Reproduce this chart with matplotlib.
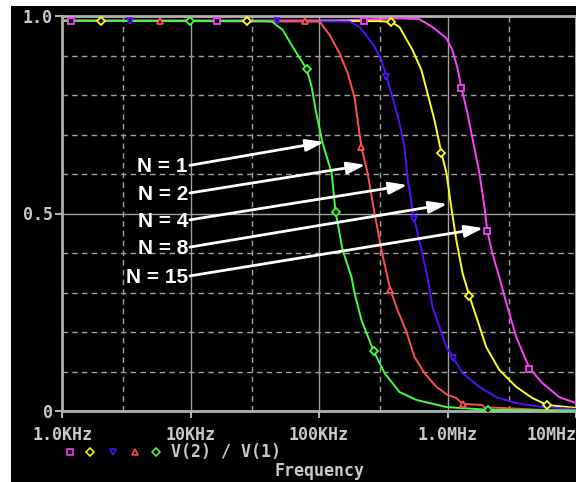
import matplotlib
matplotlib.use("Agg")
import matplotlib.pyplot as plt
from matplotlib.lines import Line2D
from matplotlib.patches import Rectangle
from matplotlib.ticker import NullFormatter

# traces: frequency (Hz) and V(2)/V(1)
f_n1 = [1e3, 34.5e3, 42.9e3, 52.1e3, 64.6e3, 80.1e3, 87.7e3, 94.2e3, 106.7e3, 125.3e3,
        134.6e3, 152.5e3, 179e3, 189e3, 214e3, 266e3, 324e3, 423e3, 573e3, 980e3, 2.08e6, 1e7]
v_n1 = [0.988, 0.987, 0.986, 0.965, 0.914, 0.866, 0.820, 0.762, 0.678, 0.603,
        0.504, 0.408, 0.339, 0.299, 0.230, 0.152, 0.096, 0.048, 0.028, 0.010, 0.003, 0.001]

f_n2 = [1e3, 101e3, 121e3, 144.5e3, 166.8e3, 189e3, 199.6e3, 214e3, 238.6e3, 270.5e3,
        306e3, 341e3, 360e3, 408e3, 480e3, 553e3, 662e3, 820e3, 998e3, 1.17e6, 1.31e6,
        1.87e6, 1.93e6, 2.53e6, 5.17e6, 1e7]
v_n2 = [0.988, 0.986, 0.952, 0.906, 0.856, 0.795, 0.737, 0.668, 0.603, 0.501,
        0.408, 0.339, 0.306, 0.256, 0.200, 0.137, 0.096, 0.061, 0.041, 0.033, 0.018,
        0.015, 0.009, 0.008, 0.003, 0.001]

f_n4 = [1e3, 173e3, 207e3, 238.6e3, 270.5e3, 306e3, 335e3, 373e3, 423e3, 463e3, 488e3,
        534e3, 553e3, 627e3, 698e3, 764e3, 820e3, 980e3, 1.11e6, 1.31e6, 1.77e6, 2.40e6,
        3.43e6, 5.46e6, 1e7]
v_n4 = [0.988, 0.986, 0.972, 0.947, 0.922, 0.889, 0.846, 0.795, 0.729, 0.668, 0.592,
        0.509, 0.486, 0.408, 0.339, 0.263, 0.235, 0.162, 0.134, 0.096, 0.061, 0.035,
        0.020, 0.010, 0.005]

f_n8 = [1e3, 296e3, 366e3, 423e3, 534e3, 627e3, 698e3, 791e3, 897e3, 980e3, 1.07e6,
        1.17e6, 1.31e6, 1.48e6, 1.71e6, 2.00e6, 2.53e6, 3.43e6, 4.57e6, 5.97e6, 1e7]
v_n8 = [0.988, 0.987, 0.985, 0.972, 0.914, 0.863, 0.805, 0.737, 0.653, 0.603, 0.516,
        0.433, 0.349, 0.291, 0.230, 0.162, 0.104, 0.061, 0.033, 0.015, 0.008]

f_n15 = [1e3, 144.5e3, 423e3, 605e3, 764e3, 980e3, 1.09e6, 1.19e6, 1.28e6, 1.43e6, 1.59e6,
         1.77e6, 1.94e6, 2.04e6, 2.23e6, 2.53e6, 2.87e6, 3.43e6, 4.33e6, 5.46e6, 7.41e6, 1e7]
v_n15 = [0.988, 0.989, 0.994, 0.992, 0.972, 0.944, 0.914, 0.871, 0.820, 0.754, 0.678,
         0.603, 0.516, 0.456, 0.400, 0.339, 0.273, 0.187, 0.109, 0.071, 0.035, 0.020]

# marker positions on each trace
mf_n1 = [9.88e3, 80.1e3, 134.6e3, 266e3, 2.08e6]
mv_n1 = [0.988, 0.866, 0.504, 0.152, 0.003]
mf_n2 = [5.77e3, 77.3e3, 214e3, 360e3, 1.31e6]
mv_n2 = [0.988, 0.988, 0.668, 0.306, 0.018]
mf_n4 = [3.37e3, 46.9e3, 335e3, 553e3, 1.11e6]
mv_n4 = [0.988, 0.988, 0.846, 0.486, 0.134]
mf_n8 = [2.01e3, 27.4e3, 366e3, 897e3, 1.48e6, 5.97e6]
mv_n8 = [0.988, 0.988, 0.985, 0.653, 0.291, 0.015]
mf_n15 = [1.17e3, 16.0e3, 222e3, 1.28e6, 2.04e6, 4.33e6]
mv_n15 = [0.988, 0.988, 0.988, 0.818, 0.456, 0.106]

x_ticks = [1e3, 1e4, 1e5, 1e6, 1e7]
x_labels = ["1.0KHz", "10KHz", "100KHz", "1.0MHz", "10MHz"]
x_minor = [3e3, 3e4, 3e5, 3e6]
y_ticks = [0, 0.5, 1.0]
y_labels = ["0", "0.5", "1.0"]
y_minor = [0.1, 0.2, 0.3, 0.4, 0.6, 0.7, 0.8, 0.9]

labels_n = ["N = 1", "N = 2", "N = 4", "N = 8", "N = 15"]
label_v = [0.622, 0.552, 0.484, 0.415, 0.342]
arrow_tip_f = [110e3, 230e3, 488e3, 998e3, 1.90e6]
arrow_tip_v = [0.681, 0.623, 0.572, 0.524, 0.463]

GRAY = "#c8c8c8"
GRID = "#a0a0a0"
MONO = "DejaVu Sans Mono"

traces = [
    (f_n15, v_n15, mf_n15, mv_n15, "#ff40ff", "s"),
    (f_n8, v_n8, mf_n8, mv_n8, "#ffff20", "D"),
    (f_n4, v_n4, mf_n4, mv_n4, "#5010ff", "v"),
    (f_n2, v_n2, mf_n2, mv_n2, "#ff5050", "^"),
    (f_n1, v_n1, mf_n1, mv_n1, "#40ff40", "D"),
]
msize = {"s": 5, "D": 4.2, "v": 5, "^": 5}

fig = plt.figure(figsize=(5.76, 4.82), dpi=100)
fig.patch.set_facecolor("white")
fig.add_artist(Rectangle((11 / 576, 0), 565 / 576, 476 / 482, transform=fig.transFigure,
                         facecolor="black", edgecolor="none", zorder=-1))

ax = fig.add_axes([62 / 576, 71 / 482, 514 / 576, 395 / 482])
ax.set_facecolor("black")
ax.set_xscale("log")
ax.set_xlim(1e3, 1e7)
ax.set_ylim(0, 1.0)

for f, v, mf, mv, col, mk in traces:
    ax.plot(f, v, color=col, lw=1.4, zorder=3)
    ax.plot(mf, mv, ls="none", marker=mk, ms=msize[mk], mec=col, mfc="black", mew=1.3, zorder=4)

ax.set_xticks(x_ticks)
xl = ax.set_xticklabels(x_labels, family=MONO, fontweight="bold")
xl[-1].set_horizontalalignment("right")
ax.set_xticks(x_minor, minor=True)
ax.xaxis.set_minor_formatter(NullFormatter())
ax.set_yticks(y_ticks)
ax.set_yticklabels(y_labels, family=MONO, fontweight="bold")
ax.set_yticks(y_minor, minor=True)

ax.set_axisbelow(True)
ax.grid(which="major", color=GRID, lw=1.0, ls="-")
ax.grid(which="minor", color=GRID, lw=1.0, ls=(0, (4, 3)))
ax.tick_params(which="minor", length=0)
ax.tick_params(axis="x", which="major", length=5, width=1.5, color="#b0b0b0",
               labelcolor=GRAY, labelsize=12, pad=6)
ax.tick_params(axis="y", which="major", length=5, width=1.5, color="#b0b0b0",
               labelcolor=GRAY, labelsize=12, pad=1.5)
for s in ax.spines.values():
    s.set_color("#b0b0b0")
    s.set_linewidth(2)

# N = ... labels with arrows
for txt, lv, tf, tv in zip(labels_n, label_v, arrow_tip_f, arrow_tip_v):
    ax.text(9.56e3, lv - 0.004, txt, ha="right", va="center", color="white",
            fontsize=15, fontweight="bold", family="Liberation Sans", zorder=6)
    ax.annotate("", xy=(tf, tv), xytext=(9.9e3, lv),
                arrowprops=dict(arrowstyle="-|>,head_length=1.1,head_width=0.36",
                                color="white", lw=2, shrinkA=0, shrinkB=0), zorder=6)

# legend row under the axis
leg_x = [70, 90, 113, 135, 156]
for xp, (f, v, mf, mv, col, mk) in zip(leg_x, traces):
    fig.add_artist(Line2D([xp / 576], [30 / 482], transform=fig.transFigure, ls="none",
                          marker=mk, ms=4.5 if mk == "s" else 4, mec=col, mfc="black", mew=1.1))
fig.text(171 / 576, 30 / 482, "V(2) / V(1)", color=GRAY, fontsize=12, family=MONO,
         fontweight="bold", ha="left", va="center")
fig.text(320 / 576, 11 / 482, "Frequency", color=GRAY, fontsize=12, family=MONO,
         fontweight="bold", ha="center", va="center")

fig.savefig("out.png", dpi=100, facecolor=fig.get_facecolor())
